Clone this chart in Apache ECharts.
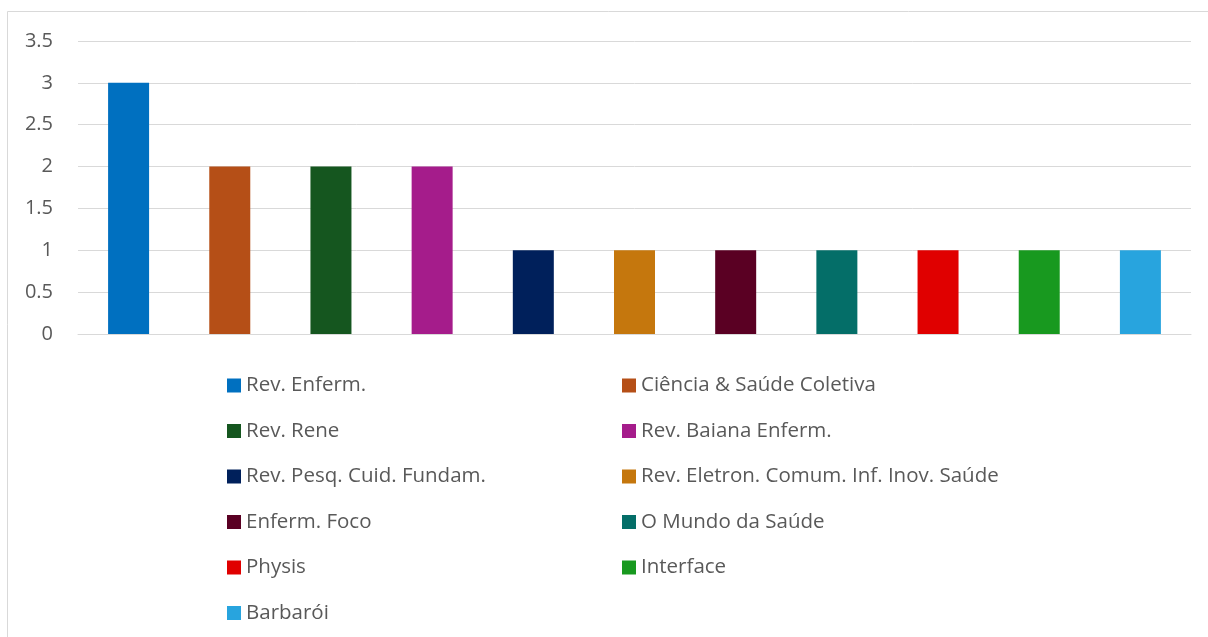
<!DOCTYPE html>
<html>
<head>
<meta charset="utf-8">
<script src="https://cdn.jsdelivr.net/npm/echarts@6/dist/echarts.min.js"></script>
<style>
html,body{margin:0;padding:0;background:#fff;}
#chart{width:1208px;height:637px;}
</style>
</head>
<body>
<div id="chart"></div>
<script>
const categories = ["Rev. Enferm.", "Ciência & Saúde Coletiva", "Rev. Rene", "Rev. Baiana Enferm.", "Rev. Pesq. Cuid. Fundam.", "Rev. Eletron. Comum. Inf. Inov. Saúde", "Enferm. Foco", "O Mundo da Saúde", "Physis", "Interface", "Barbarói"];
const values = [3, 2, 2, 2, 1, 1, 1, 1, 1, 1, 1];
const colors = ["#0070C0", "#B54F17", "#15561F", "#A51C8B", "#00205B", "#C5770D", "#5A0023", "#046E68", "#E00000", "#18991F", "#28A4DE"];
const yTicks = [0, 0.5, 1, 1.5, 2, 2.5, 3, 3.5];

const FONT = "Open Sans";
const series = categories.map((name, i) => ({
  name: name,
  type: 'bar',
  stack: 'all',
  barWidth: 41,
  itemStyle: { color: colors[i] },
  data: categories.map((c, j) => j === i ? values[i] : '-')
}));

const leftNames = categories.filter((c, i) => i % 2 === 0);
const rightNames = categories.filter((c, i) => i % 2 === 1);
const legendCommon = {
  orient: 'vertical',
  top: 370,
  itemWidth: 14,
  itemHeight: 14,
  itemGap: 24.5,
  icon: 'rect',
  textStyle: { fontFamily: FONT, fontSize: 20.5, color: '#595959', lineHeight: 20 }
};

const chart = echarts.init(document.getElementById('chart'));
chart.setOption({
  animation: false,
  backgroundColor: '#fff',
  grid: { left: 78, right: 17, top: 41, height: 293 },
  xAxis: {
    type: 'category',
    data: categories,
    axisLine: { show: true, lineStyle: { color: '#d9d9d9', width: 1 } },
    axisTick: { show: false },
    axisLabel: { show: false }
  },
  yAxis: {
    type: 'value',
    min: yTicks[0],
    max: yTicks[yTicks.length - 1],
    interval: 0.5,
    axisLine: { show: false },
    axisTick: { show: false },
    splitLine: { lineStyle: { color: '#d9d9d9', width: 1 } },
    axisLabel: { margin: 25, fontFamily: FONT, fontSize: 20, color: '#595959' }
  },
  legend: [
    Object.assign({}, legendCommon, { left: 222, data: leftNames }),
    Object.assign({}, legendCommon, { left: 617, data: rightNames })
  ],
  graphic: [{
    type: 'rect',
    silent: true,
    shape: { x: 7.5, y: 11.5, width: 1400, height: 800 },
    style: { fill: null, stroke: '#d9d9d9', lineWidth: 1 }
  }],
  series: series
});
</script>
</body>
</html>
